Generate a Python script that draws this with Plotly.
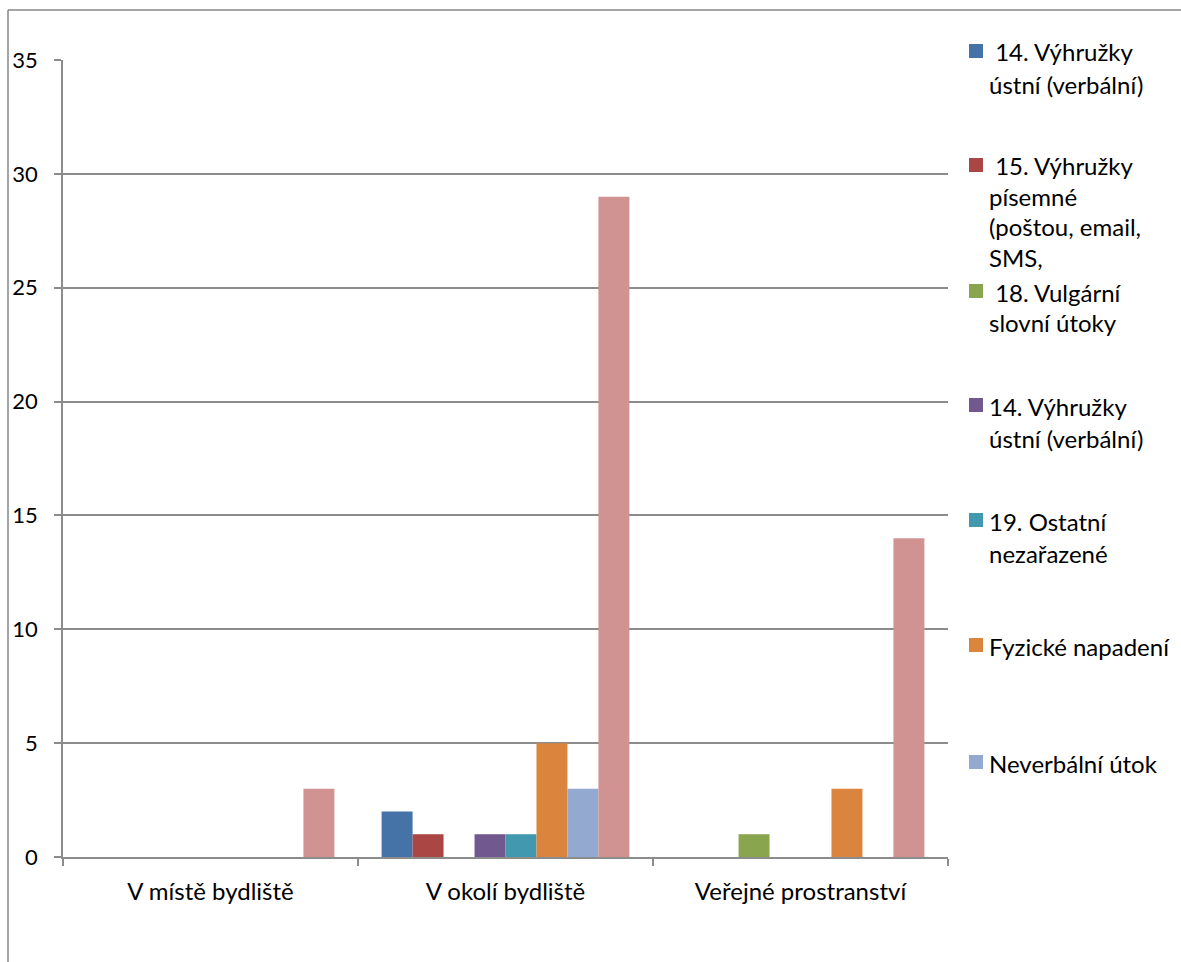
import plotly.graph_objects as go

categories = ["V místě bydliště", "V okolí bydliště", "Veřejné prostranství"]

series_names = [
    "14. Výhružky ústní (verbální)",
    "15. Výhružky písemné (poštou, email, SMS,",
    "18. Vulgární slovní útoky",
    "14. Výhružky ústní (verbální) ",
    "19. Ostatní nezařazené",
    "Fyzické napadení",
    "Neverbální útok",
    "Ostatní",
]
series_values = [
    [0, 2, 0],
    [0, 1, 0],
    [0, 0, 1],
    [0, 1, 0],
    [0, 1, 0],
    [0, 5, 3],
    [0, 3, 0],
    [3, 29, 14],
]
series_colors = ["#4572A7", "#AA4643", "#89A54E", "#71588F",
                 "#4198AF", "#DB843D", "#93A9CF", "#D19392"]

# legend text as displayed (wrapped lines), only 7 visible entries
legend_lines = [
    [" 14. Výhružky", "ústní (verbální)"],
    [" 15. Výhružky", "písemné", "(poštou, email,", "SMS,"],
    [" 18. Vulgární", "slovní útoky"],
    ["14. Výhružky", "ústní (verbální)"],
    ["19. Ostatní", "nezařazené"],
    ["Fyzické napadení"],
    ["Neverbální útok"],
]
legend_first_line_y = [52, 166, 292, 406, 521, 646, 763]
legend_line_step = [32, 30.5, 30, 32, 32, 32, 32]

y_ticks = [0, 5, 10, 15, 20, 25, 30, 35]

W, H = 1181, 962
L, R, T, B = 63, 948, 60, 857
FONT = "Lato, 'Open Sans', sans-serif"
GRID = "#8c8c8c"

def px_x(x):
    return (x - L) / (R - L)

def px_y(y):
    return (B - y) / (B - T)

fig = go.Figure()
for name, vals, col in zip(series_names, series_values, series_colors):
    fig.add_trace(go.Bar(x=categories, y=vals, name=name,
                         marker=dict(color=col, line=dict(width=0)),
                         showlegend=False))

shapes = []
annotations = []
# outer chart border (top and left visible)
shapes.append(dict(type="line", xref="paper", yref="paper",
                   x0=px_x(8), x1=px_x(W + 20), y0=px_y(10), y1=px_y(10),
                   line=dict(color="#878787", width=1.5)))
shapes.append(dict(type="line", xref="paper", yref="paper",
                   x0=px_x(8), x1=px_x(8), y0=px_y(10), y1=px_y(H + 20),
                   line=dict(color="#878787", width=1.5)))

for lines, y0, step, col in zip(legend_lines, legend_first_line_y,
                                legend_line_step, series_colors):
    shapes.append(dict(type="rect", xref="paper", yref="paper",
                       x0=px_x(969), x1=px_x(983),
                       y0=px_y(y0 - 7 - 1), y1=px_y(y0 + 7 - 1),
                       fillcolor=col, line=dict(width=0)))
    for i, ln in enumerate(lines):
        annotations.append(dict(xref="paper", yref="paper",
                                x=px_x(988), y=px_y(y0 + i * step),
                                xanchor="left", yanchor="middle",
                                text=ln, showarrow=False, borderpad=0,
                                font=dict(family=FONT, size=24, color="#000")))

fig.update_layout(
    width=W, height=H,
    margin=dict(l=L, r=W - R, t=T, b=H - B),
    paper_bgcolor="white", plot_bgcolor="white",
    barmode="group", bargap=0.16, bargroupgap=0,
    showlegend=False,
    font=dict(family=FONT, size=24, color="#000"),
    shapes=shapes, annotations=annotations,
    xaxis=dict(type="category", showline=True, linecolor=GRID, linewidth=1.5,
               ticks="outside", tickson="boundaries", ticklen=7,
               tickcolor=GRID, tickwidth=1.5, showgrid=False,
               ticklabelstandoff=12, zeroline=False,
               tickfont=dict(family=FONT, size=24, color="#000")),
    yaxis=dict(range=[0, 35], tickvals=y_ticks, showline=True, linecolor=GRID,
               linewidth=1.5, ticks="outside", ticklen=7, tickcolor=GRID,
               tickwidth=1.5, showgrid=True, gridcolor=GRID, gridwidth=1.5,
               zeroline=False, ticklabelstandoff=12,
               tickfont=dict(family=FONT, size=22, color="#000")),
)

fig.write_html("out.html")
